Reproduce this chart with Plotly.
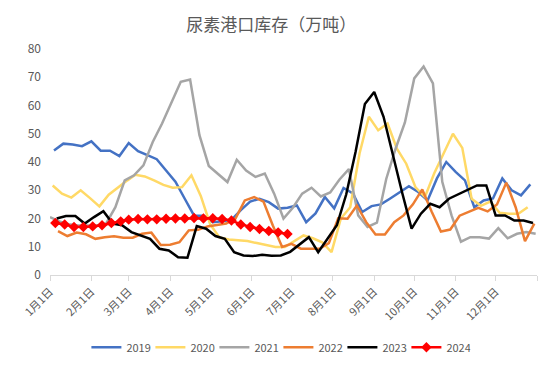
import pandas as pd
import plotly.graph_objects as go

# ---- data ----
years = ["2019", "2020", "2021", "2022", "2023", "2024"]
start_dates = ["2019-01-04", "2020-01-03", "2021-01-01", "2022-01-07", "2023-01-06", "2024-01-05"]

v2019 = [44.1, 46.5, 46.2, 45.6, 47.3, 44.0, 44.0, 42.1, 46.7, 43.8, 42.4, 41.0, 37.0, 33.0,
         27.0, 21.0, 21.0, 18.7, 19.0, 19.5, 23.0, 26.0, 27.0, 25.8, 23.5, 23.8, 24.6, 18.7,
         21.8, 27.6, 23.6, 30.8, 28.9, 22.3, 24.4, 25.0, 27.1, 29.4, 31.4, 29.4, 26.4, 34.2,
         40.0, 36.5, 33.5, 24.0, 26.4, 27.1, 34.2, 30.0, 28.2, 32.1]
v2020 = [31.7, 28.8, 27.4, 30.0, 27.2, 24.3, 28.4, 31.1, 33.5, 35.5, 34.9, 33.5, 31.9, 30.9,
         31.1, 35.3, 28.0, 18.0, 13.3, 12.6, 12.2, 12.0, 11.3, 10.6, 9.9, 9.9, 12.0, 14.0,
         13.0, 11.6, 8.1, 20.0, 24.0, 43.0, 56.0, 51.2, 53.6, 44.7, 39.4, 31.0, 27.6, 36.0,
         43.0, 50.0, 45.0, 27.0, 24.5, 26.0, 22.0, 21.7, 21.7, 24.0]
v2021 = [20.5, 19.0, 18.0, 17.5, 17.5, 17.5, 18.2, 24.0, 33.5, 35.3, 38.8, 47.1, 53.6, 60.7,
         68.4, 69.2, 49.5, 38.6, 35.9, 32.9, 40.8, 37.0, 34.7, 35.9, 28.8, 20.0, 23.8, 28.8,
         30.9, 27.8, 29.2, 33.8, 37.5, 21.1, 17.0, 18.5, 34.0, 44.7, 54.0, 69.6, 73.8, 67.8,
         33.0, 21.0, 11.8, 13.4, 13.4, 12.9, 16.6, 13.0, 14.6, 15.2, 14.6]
v2022 = [15.5, 13.8, 15.0, 14.4, 12.8, 13.4, 13.7, 13.2, 13.2, 14.6, 15.0, 10.6, 10.7, 11.6,
         15.8, 16.0, 17.2, 17.8, 18.2, 20.0, 26.4, 27.6, 26.0, 17.5, 9.9, 11.0, 9.3, 9.3,
         9.3, 11.3, 20.1, 19.9, 24.6, 18.7, 14.3, 14.3, 18.7, 21.1, 25.0, 30.3, 22.5, 15.4,
         16.1, 21.0, 22.3, 23.8, 22.5, 25.0, 32.7, 24.0, 12.0, 18.2]
v2023 = [20.0, 20.9, 20.9, 18.2, 20.5, 22.6, 18.2, 17.6, 15.2, 14.0, 12.8, 9.3, 8.7, 6.3,
         6.1, 17.3, 16.4, 13.8, 12.8, 8.1, 6.9, 6.7, 7.2, 6.8, 6.9, 8.2, 10.8, 13.4,
         8.1, 12.8, 17.6, 28.5, 43.5, 60.5, 64.8, 56.0, 42.0, 29.0, 16.4, 21.7, 25.2, 24.0,
         27.0, 28.5, 30.0, 31.7, 31.7, 21.1, 21.1, 19.3, 19.3, 18.4]
v2024 = [18.4, 17.9, 17.0, 17.0, 17.2, 17.6, 18.4, 19.0, 19.6, 19.8, 19.7, 19.7, 19.9, 20.0,
         20.0, 20.2, 20.0, 20.1, 19.8, 19.3, 17.9, 17.0, 16.3, 15.6, 15.1, 14.5]

month_ticks = ["2001-01-01", "2001-02-01", "2001-03-01", "2001-04-01", "2001-05-01", "2001-06-01",
               "2001-07-01", "2001-08-01", "2001-09-01", "2001-10-01", "2001-11-01", "2001-12-01",
               "2002-01-01"]
month_labels = ["1月1日", "2月1日", "3月1日", "4月1日", "5月1日", "6月1日",
                "7月1日", "8月1日", "9月1日", "10月1日", "11月1日", "12月1日", ""]

series = [v2019, v2020, v2021, v2022, v2023, v2024]
colors = ["#4472C4", "#FFD966", "#A5A5A5", "#ED7D31", "#000000", "#FF0000"]

FONT = "Noto Sans CJK SC, Liberation Sans, sans-serif"
TXT = "#595959"

fig = go.Figure()
for name, start, vals, col in zip(years, start_dates, series, colors):
    dates = pd.date_range(start, periods=len(vals), freq="7D")
    xs = [d.replace(year=2001).strftime("%Y-%m-%d") for d in dates]
    if name == "2024":
        fig.add_trace(go.Scatter(x=xs, y=vals, name=name, mode="lines+markers",
                                 line=dict(color=col, width=2.5),
                                 marker=dict(symbol="diamond", size=8, color=col)))
    else:
        fig.add_trace(go.Scatter(x=xs, y=vals, name=name, mode="lines",
                                 line=dict(color=col, width=2.5)))

# the page body adds an 8px offset, so the figure is sized/margined to compensate
fig.update_layout(
    width=545, height=368,
    paper_bgcolor="white", plot_bgcolor="white",
    margin=dict(l=34, r=16, t=41, b=101),
    font=dict(family=FONT, size=11, color=TXT),
    title=dict(text="尿素港口库存（万吨）", x=0.483, xanchor="center",
               y=0.954, yanchor="middle", xref="container", yref="container",
               font=dict(family=FONT, size=17, color=TXT)),
    xaxis=dict(type="date", range=["2001-01-01", "2002-01-01"],
               tickvals=month_ticks, ticktext=month_labels, tickangle=-45,
               showgrid=False, showline=True, linecolor="#D9D9D9", linewidth=1,
               ticks="outside", ticklen=5, tickcolor="#D9D9D9",
               tickfont=dict(family=FONT, size=11, color=TXT), zeroline=False),
    yaxis=dict(range=[0, 80], dtick=10, showgrid=False, zeroline=False, showline=False,
               ticklabelstandoff=8,
               tickfont=dict(family=FONT, size=12, color=TXT)),
    legend=dict(orientation="h", x=0.469, xanchor="center", y=-0.32, yanchor="middle",
                entrywidth=19, entrywidthmode="pixels",
                font=dict(family=FONT, size=11, color=TXT)),
    showlegend=True,
)

fig.write_html("out.html")
